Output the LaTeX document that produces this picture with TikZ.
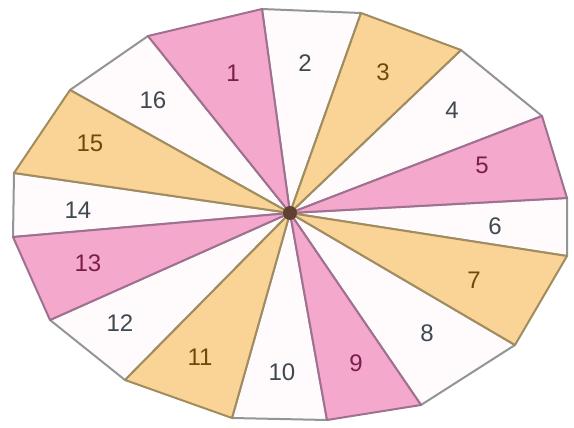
\documentclass[tikz,border=0pt]{standalone}
\usepackage{fontspec}
\setmainfont{Liberation Sans}
\definecolor{pinkfill}{RGB}{244,168,204}
\definecolor{orangefill}{RGB}{250,212,150}
\definecolor{whitefill}{RGB}{255,251,253}
\definecolor{pinkedge}{RGB}{160,112,144}
\definecolor{orangeedge}{RGB}{160,140,92}
\definecolor{grayedge}{RGB}{146,148,152}
\definecolor{pinktext}{RGB}{122,30,72}
\definecolor{orangetext}{RGB}{110,74,8}
\definecolor{graytext}{RGB}{62,74,80}
\definecolor{hubcolor}{RGB}{96,64,48}
\tikzset{
  whitesec/.style={fill=whitefill,draw=grayedge,line width=2pt,line join=round},
  pinksec/.style={fill=pinkfill,draw=pinkedge,line width=2pt,line join=round},
  orangesec/.style={fill=orangefill,draw=orangeedge,line width=2pt,line join=round},
  numlabel/.style={font=\fontsize{24}{24}\selectfont,inner sep=0pt},
  pinklab/.style={numlabel,text=pinktext},
  orangelab/.style={numlabel,text=orangetext},
  graylab/.style={numlabel,text=graytext}
}
\begin{document}
\begin{tikzpicture}[x=1pt,y=-1pt]
\useasboundingbox (0,0) rectangle (574,428);
\coordinate (c) at (290,213);
\coordinate (p0) at (148,36);
\coordinate (p1) at (262,9);
\coordinate (p2) at (361,13);
\coordinate (p3) at (461,50);
\coordinate (p4) at (542,116);
\coordinate (p5) at (567,198);
\coordinate (p6) at (567,256);
\coordinate (p7) at (515,345);
\coordinate (p8) at (421,405);
\coordinate (p9) at (327,420);
\coordinate (p10) at (232,418);
\coordinate (p11) at (125,380);
\coordinate (p12) at (50,320);
\coordinate (p13) at (13,237);
\coordinate (p14) at (14,173);
\coordinate (p15) at (70,90);
% white sectors
\path[whitesec] (c) -- (p1) -- (p2) -- cycle;
\path[whitesec] (c) -- (p3) -- (p4) -- cycle;
\path[whitesec] (c) -- (p5) -- (p6) -- cycle;
\path[whitesec] (c) -- (p7) -- (p8) -- cycle;
\path[whitesec] (c) -- (p9) -- (p10) -- cycle;
\path[whitesec] (c) -- (p11) -- (p12) -- cycle;
\path[whitesec] (c) -- (p13) -- (p14) -- cycle;
\path[whitesec] (c) -- (p15) -- (p0) -- cycle;
% coloured sectors
\path[pinksec] (c) -- (p0) -- (p1) -- cycle;
\path[orangesec] (c) -- (p2) -- (p3) -- cycle;
\path[pinksec] (c) -- (p4) -- (p5) -- cycle;
\path[orangesec] (c) -- (p6) -- (p7) -- cycle;
\path[pinksec] (c) -- (p8) -- (p9) -- cycle;
\path[orangesec] (c) -- (p10) -- (p11) -- cycle;
\path[pinksec] (c) -- (p12) -- (p13) -- cycle;
\path[orangesec] (c) -- (p14) -- (p15) -- cycle;
% hub
\fill[hubcolor] (c) circle (7pt);
% labels
\node[pinklab] (l1) at (233,73) {1};
\node[graylab] (l2) at (305,63) {2};
\node[orangelab] (l3) at (383,72) {3};
\node[graylab] (l4) at (452,110) {4};
\node[pinklab] (l5) at (482,165) {5};
\node[graylab] (l6) at (495,226) {6};
\node[orangelab] (l7) at (474,280) {7};
\node[graylab] (l8) at (427,333) {8};
\node[pinklab] (l9) at (356,363) {9};
\node[graylab] (l10) at (282,372) {10};
\node[orangelab] (l11) at (200,357) {11};
\node[graylab] (l12) at (120,323) {12};
\node[pinklab] (l13) at (88,263) {13};
\node[graylab] (l14) at (78,210) {14};
\node[orangelab] (l15) at (90,143) {15};
\node[graylab] (l16) at (153,100) {16};
\end{tikzpicture}
\end{document}
